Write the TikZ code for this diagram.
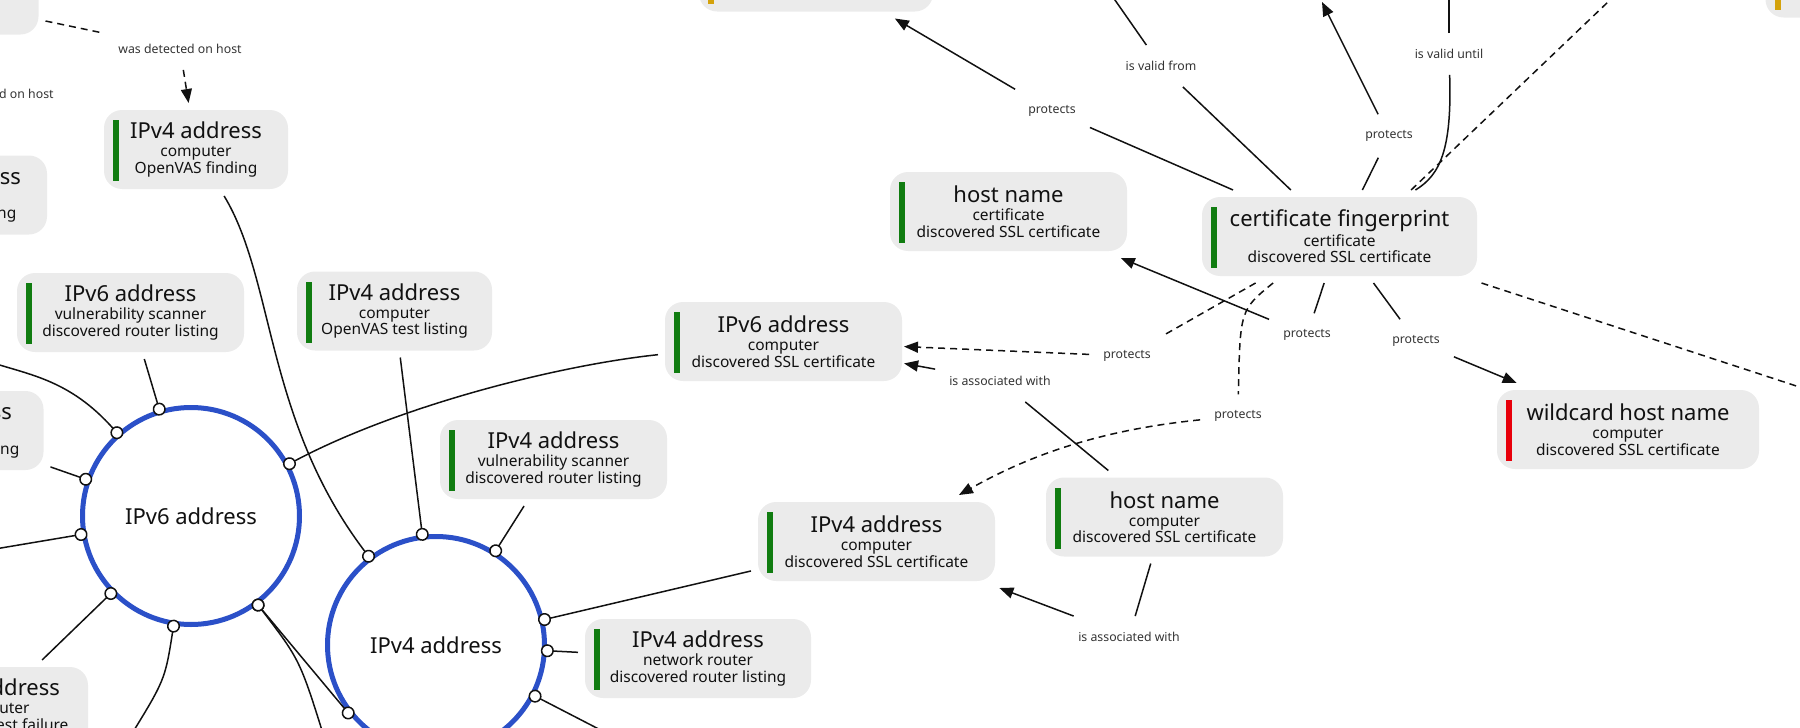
\documentclass[tikz,border=0pt]{standalone}
\usepackage{fontspec}
\setmainfont{Noto Sans}
\usepackage{tikz}
\usetikzlibrary{arrows.meta,calc}
\usepackage{xcolor}
\definecolor{BoxGray}{HTML}{EBEBEB}
\definecolor{BarGreen}{HTML}{107C10}
\definecolor{BarRed}{HTML}{E8000B}
\definecolor{BarAmber}{HTML}{D4A20B}
\definecolor{RingBlue}{HTML}{2B50C8}
\definecolor{EdgeInk}{HTML}{111111}
\definecolor{LabelInk}{HTML}{333333}

\newcommand{\ttl}[1]{{\fontsize{22}{24}\selectfont #1}}

\tikzset{
  entity/.style={rectangle,rounded corners=18pt,fill=BoxGray,minimum height=79pt,
    inner sep=0pt,outer sep=7pt,align=center,text=EdgeInk,
    font=\fontsize{15.5}{16.5}\selectfont,
    path picture={\fill[#1,sharp corners] ([xshift=9pt,yshift=-10pt]path picture bounding box.north west)
      rectangle ([xshift=15pt,yshift=8pt]path picture bounding box.south west);}},
  entity/.default=BarGreen,
  ring/.style={circle,draw=RingBlue,line width=5pt,minimum size=217pt,inner sep=0pt,
    fill=white,text=EdgeInk,font=\fontsize{22}{24}\selectfont},
  lbl/.style={inner xsep=14pt,inner ysep=16pt,text=LabelInk,font=\fontsize{12.3}{14}\selectfont},
  link/.style={draw=EdgeInk,line width=1.5pt},
  dlink/.style={link,dash pattern=on 7pt off 5pt},
  knob/.style={-{Circle[fill=white,length=13pt,width=13pt]},shorten >=-6pt},
  knobs/.style={{Circle[fill=white,length=13pt,width=13pt]}-{Circle[fill=white,length=13pt,width=13pt]},
    shorten <=-6pt,shorten >=-6pt},
}

\begin{document}
\begin{tikzpicture}[x=1pt,y=-1pt,>={Triangle[length=14pt,width=11pt]}]
\clip (0,0) rectangle (1800,728);

% boxes
\node[entity,minimum width=237pt] (fpA) at (-80,-5) {};
\node[entity=BarAmber,minimum width=234pt] (topA) at (816,-28) {};
\node[entity=BarAmber,minimum width=237pt] (topB) at (1884,-22) {};
\node[entity,minimum width=184pt] (v4find) at (196,149.5) {\ttl{IPv4 address}\\[1.5pt]computer\\OpenVAS finding};
\node[entity,minimum width=184pt] (v4findL) at (-45,195) {\ttl{IPv4 address}\\[1.5pt]computer\\OpenVAS finding};
\node[entity,minimum width=195pt] (v4testL) at (-54,430.5) {\ttl{IPv4 address}\\[1.5pt]computer\\OpenVAS test listing};
\node[entity,minimum width=227pt] (v6scan) at (130.5,312.5) {\ttl{IPv6 address}\\[1.5pt]vulnerability scanner\\discovered router listing};
\node[entity,minimum width=195pt] (v4test) at (394.5,311) {\ttl{IPv4 address}\\[1.5pt]computer\\OpenVAS test listing};
\node[entity,minimum width=237pt] (v6ssl) at (783.5,341.5) {\ttl{IPv6 address}\\[1.5pt]computer\\discovered SSL certificate};
\node[entity,minimum width=237pt] (hostcert) at (1008.5,211.5) {\ttl{host name}\\[1.5pt]certificate\\discovered SSL certificate};
\node[entity,minimum width=275pt] (fprint) at (1339.5,236.5) {\ttl{certificate fingerprint}\\[1.5pt]certificate\\discovered SSL certificate};
\node[entity=BarRed,minimum width=262pt] (wildcard) at (1628,429.5) {\ttl{wildcard host name}\\[1.5pt]computer\\discovered SSL certificate};
\node[entity,minimum width=227pt] (v4scan) at (553.5,459.5) {\ttl{IPv4 address}\\[1.5pt]vulnerability scanner\\discovered router listing};
\node[entity,minimum width=237pt] (v4ssl) at (876.5,541.5) {\ttl{IPv4 address}\\[1.5pt]computer\\discovered SSL certificate};
\node[entity,minimum width=237pt] (hostssl) at (1164.5,517) {\ttl{host name}\\[1.5pt]computer\\discovered SSL certificate};
\node[entity,minimum width=226pt] (v4router) at (698,658.5) {\ttl{IPv4 address}\\[1.5pt]network router\\discovered router listing};
\node[entity,minimum width=188pt] (v4fail) at (-6,706.5) {\ttl{IPv4 address}\\[1.5pt]computer\\OpenVAS test failure};

% groups
\node[ring] (v6grp) at (191,516) {IPv6 address};
\node[ring] (v4grp) at (436,645) {IPv4 address};

% edge labels
\node[lbl] (detL) at (-8,94) {was detected on host};
\node[lbl] (det) at (180,49) {was detected on host};
\node[lbl] (protA) at (1052,111) {protects};
\node[lbl] (vfrom) at (1161,66) {is valid from};
\node[lbl] (protB) at (1389,136) {protects};
\node[lbl] (vuntil) at (1449,54) {is valid until};
\node[lbl] (protC) at (1307,335) {protects};
\node[lbl] (protD) at (1416,341) {protects};
\node[lbl] (protE) at (1127,356) {protects};
\node[lbl] (protF) at (1238,416) {protects};
\node[lbl] (assocA) at (1000,381) {is associated with};
\node[lbl] (assocB) at (1129,637) {is associated with};

% loose ends outside the frame
\coordinate (outL) at (-10,362);
\coordinate (outW) at (-5,549);
\coordinate (outS1) at (128,740);
\coordinate (outS2) at (325,740);
\coordinate (outS3) at (620,740);
\coordinate (outN1) at (1101,-20);
\coordinate (outN2) at (1322,2);
\coordinate (outN3) at (1449,-20);
\coordinate (outN4) at (1631,-20);
\coordinate (outE) at (1830,397);

% links
\draw[dlink] (fpA) -- (det);
\draw[dlink,->] (det) -- (v4find);
\draw[link] (fprint) -- (protA);
\draw[link,->] (protA) -- (topA);
\draw[link] (fprint) -- (vfrom);
\draw[link] (vfrom) -- (outN1);
\draw[link] (fprint) -- (protB);
\draw[link,->] (protB) -- (outN2);
\draw[link] (fprint) .. controls (1440,175) and (1452,150) .. (vuntil);
\draw[link] (vuntil) -- (outN3);
\draw[dlink] (fprint.33) -- (outN4);
\draw[dlink] (fprint) -- (outE);
\draw[link] (fprint) -- (protC);
\draw[link,->] (protC) -- (hostcert);
\draw[link] (fprint) -- (protD);
\draw[link,->] (protD) -- (wildcard);
\draw[dlink] (fprint.209) -- (protE);
\draw[dlink,->,shorten >=-5pt] (protE) -- (v6ssl);
\draw[dlink] (fprint.215) .. controls (1240,310) .. (protF);
\draw[dlink,->] (protF) .. controls (1100,430) and (1030,455) .. (v4ssl);
\draw[link] (hostssl) -- (assocA);
\draw[link,->,shorten >=-5pt] (assocA) -- (v6ssl);
\draw[link] (hostssl) -- (assocB);
\draw[link,->] (assocB) -- (v4ssl);

% group members
\draw[link,knob] (outL) .. controls (30,375) and (70,380) .. (v6grp);
\draw[link,knob] (v6scan) -- (v6grp);
\draw[link,knob] (v4testL) -- (v6grp);
\draw[link,knob] (outW) -- (v6grp);
\draw[link,knob] (v4fail) -- (v6grp);
\draw[link,knob] (outS1) .. controls (165,680) .. (v6grp);
\draw[link,knob] (outS2) .. controls (300,660) .. (v6grp.-53);
\draw[link,knob] (v6ssl) .. controls (560,365) and (400,405) .. (v6grp);
\draw[link,knobs] (v6grp.-53) -- (v4grp.218);
\draw[link,knob] (v4find) .. controls (275,280) and (265,420) .. (v4grp);
\draw[link,knob] (v4test) -- (v4grp);
\draw[link,knob] (v4scan) -- (v4grp);
\draw[link,knob] (v4ssl) -- (v4grp);
\draw[link,knob] (v4router) -- (v4grp);
\draw[link,knob] (outS3) -- (v4grp);
\end{tikzpicture}
\end{document}
